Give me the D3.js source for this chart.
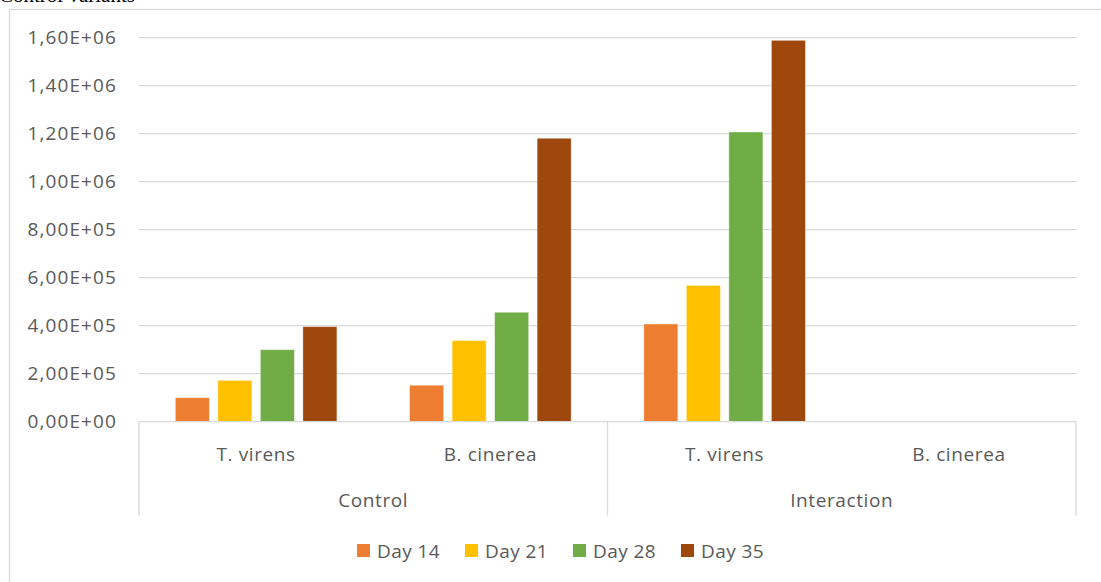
<!DOCTYPE html>
<html>
<head>
<meta charset="utf-8">
<script src="https://cdn.jsdelivr.net/npm/d3@7"></script>
<style>
  body { margin: 0; background: #fff; }
  text { font-family: "Open Sans", Lato, sans-serif; fill: #595959; }
</style>
</head>
<body>
<div id="chart"></div>
<script>
// data
var groups = ["Control", "Interaction"];
var species = ["T. virens", "B. cinerea"];
var series = ["Day 14", "Day 21", "Day 28", "Day 35"];
var day14 = [100000, 152000, 407000, 0];
var day21 = [172000, 338000, 568000, 0];
var day28 = [300000, 456000, 1207000, 0];
var day35 = [396000, 1181000, 1589000, 0];
var yTicks = [0, 200000, 400000, 600000, 800000, 1000000, 1200000, 1400000, 1600000];
var colors = ["#ed7d31", "#ffc000", "#70ad47", "#9e480e"];

var values = [day14, day21, day28, day35];

// one key per bottom category, group|species
var cats = [];
groups.forEach(function(g){ species.forEach(function(s){ cats.push({group:g, sp:s, key:g + "|" + s}); }); });

var bars = [];
cats.forEach(function(c, i){
  series.forEach(function(s, j){ bars.push({key:c.key, series:s, value:values[j][i], color:colors[j]}); });
});

var W = 1101, H = 582;
var plotLeft = 139, plotRight = 1076, plotTop = 37.7, plotBase = 421.7;

var svg = d3.select("#chart").append("svg")
    .attr("width", W)
    .attr("height", H);

// chart border (only top/left visible in the crop)
svg.append("rect")
    .attr("x", 9.5).attr("y", 9.5)
    .attr("width", 1200).attr("height", 700)
    .style("fill", "none")
    .style("stroke", "#d9d9d9")
    .style("stroke-width", 1.3);

// title, mostly cut off at the top
svg.append("text")
    .attr("x", -1).attr("y", 1.5)
    .style("font-family", "'Liberation Serif', serif")
    .style("font-size", "21px")
    .style("fill", "#000")
    .text("Control variants");

var y = d3.scaleLinear().domain([0, 1600000]).range([plotBase, plotTop]);

var x0 = d3.scaleBand().domain(cats.map(function(c){return c.key;})).range([plotLeft, plotRight]);
var x1 = d3.scaleBand().domain(series).range([0, x0.bandwidth()])
    .paddingInner(0.2).paddingOuter(0.855);

function sciFmt(v){
  var p = v.toExponential(2).split("e");
  var e = parseInt(p[1], 10);
  return p[0].replace(".", ",") + "E" + (e < 0 ? "-" : "+") + (Math.abs(e) < 10 ? "0" : "") + Math.abs(e);
}

// gridlines
svg.selectAll()
    .data(yTicks.slice(1)).enter()
    .append("line")
    .attr("x1", plotLeft).attr("x2", plotRight)
    .attr("y1", function(d){return y(d);})
    .attr("y2", function(d){return y(d);})
    .style("stroke", "#d9d9d9")
    .style("stroke-width", 1.3);

// y axis labels
var yAxis = svg.append("g")
    .attr("transform", "translate(" + plotLeft + ",0)")
    .call(d3.axisLeft(y).tickValues(yTicks).tickFormat(sciFmt).tickSize(0).tickPadding(22));
yAxis.select(".domain").remove();
yAxis.selectAll("text")
    .style("font-family", "'Open Sans', sans-serif")
    .style("font-size", "19px")
    .style("letter-spacing", "1.1px")
    .style("fill", "#595959");

// bars
svg.selectAll()
    .data(bars).enter()
    .append("rect")
    .attr("x", function(d){return x0(d.key) + x1(d.series);})
    .attr("y", function(d){return y(d.value);})
    .attr("width", x1.bandwidth())
    .attr("height", function(d){return y(0) - y(d.value);})
    .style("fill", function(d){return d.color;})
    .style("stroke", "#fff")
    .style("stroke-opacity", 0.45)
    .style("stroke-width", 0.8);

// category axis
svg.append("line")
    .attr("x1", plotLeft).attr("x2", plotRight)
    .attr("y1", plotBase).attr("y2", plotBase)
    .style("stroke", "#d9d9d9").style("stroke-width", 1.3);

var groupEdges = [plotLeft];
groups.forEach(function(g){
  var ks = cats.filter(function(c){return c.group === g;});
  groupEdges.push(x0(ks[ks.length - 1].key) + x0.bandwidth());
});
svg.selectAll()
    .data(groupEdges).enter()
    .append("line")
    .attr("x1", function(d){return d;}).attr("x2", function(d){return d;})
    .attr("y1", plotBase).attr("y2", 515.5)
    .style("stroke", "#d9d9d9").style("stroke-width", 1.3);

svg.selectAll()
    .data(cats).enter()
    .append("text")
    .attr("x", function(d){return x0(d.key) + x0.bandwidth() / 2;})
    .attr("y", 460.5)
    .attr("text-anchor", "middle")
    .style("font-size", "19px")
    .style("letter-spacing", "0.6px")
    .text(function(d){return d.sp;});

svg.selectAll()
    .data(groups).enter()
    .append("text")
    .attr("x", function(d, i){return (groupEdges[i] + groupEdges[i + 1]) / 2;})
    .attr("y", 506.5)
    .attr("text-anchor", "middle")
    .style("font-size", "19px")
    .style("letter-spacing", "0.6px")
    .text(function(d){return d;});

// legend
var legend = svg.selectAll()
    .data(series).enter()
    .append("g")
    .attr("transform", function(d, i){return "translate(" + (357 + i * 108) + ",544)";});
legend.append("rect")
    .attr("width", 13).attr("height", 13)
    .style("fill", function(d, i){return colors[i];});
legend.append("text")
    .attr("x", 20).attr("y", 13.5)
    .style("font-size", "19px")
    .style("letter-spacing", "0.4px")
    .text(function(d){return d;});
</script>
</body>
</html>
